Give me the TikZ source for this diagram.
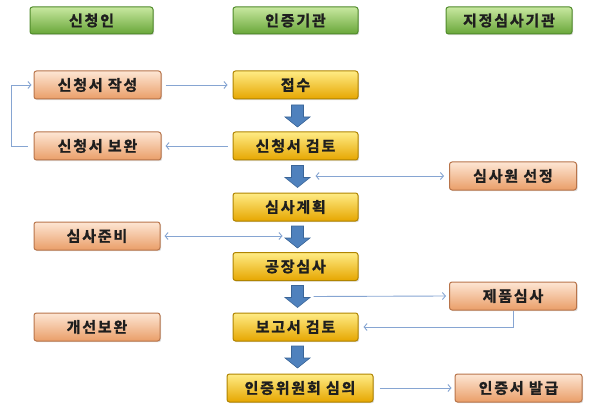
\documentclass[tikz,border=0pt]{standalone}
\usepackage{fontspec}
\setmainfont{Noto Sans CJK KR}
\newfontfamily\krbold{Noto Sans CJK KR Bold}[LetterSpace=12, FakeBold=1.3]
\usetikzlibrary{arrows.meta,shadows,calc}
\definecolor{gtop}{HTML}{C8E8A0}
\definecolor{gmid}{HTML}{8CC751}
\definecolor{gbot}{HTML}{68A638}
\definecolor{gbrd}{HTML}{4F8A2A}
\definecolor{otop}{HTML}{FDE6D4}
\definecolor{omid}{HTML}{F8C39C}
\definecolor{obot}{HTML}{EA9E68}
\definecolor{obrd}{HTML}{B8744A}
\definecolor{ytop}{HTML}{FFEC85}
\definecolor{ymid}{HTML}{FFCC1A}
\definecolor{ybot}{HTML}{E6A600}
\definecolor{ybrd}{HTML}{B08400}
\definecolor{fatblue}{HTML}{4F81BD}
\definecolor{fatbrd}{HTML}{3A6598}
\definecolor{thinblue}{HTML}{86A5D2}
\definecolor{txt}{HTML}{1E1E1E}
\tikzset{
  box/.style={rounded corners=2.5pt, line width=1pt, inner sep=0pt,
    text=txt, font=\krbold\fontsize{15}{16}\selectfont,
    minimum height=28pt, minimum width=126pt,
    drop shadow={shadow xshift=1.2pt, shadow yshift=-1.2pt, fill=black!22, opacity=0.6}},
  hbox/.style={box, draw=gbrd, top color=gtop, middle color=gmid, bottom color=gbot},
  obox/.style={box, draw=obrd, top color=otop, middle color=omid, bottom color=obot},
  ybox/.style={box, draw=ybrd, top color=ytop, middle color=ymid, bottom color=ybot},
  conn/.style={draw=thinblue, line width=0.9pt, -{Straight Barb[length=3pt,width=7pt]}},
  conn2/.style={draw=thinblue, line width=0.9pt, {Straight Barb[length=3pt,width=7pt]}-{Straight Barb[length=3pt,width=7pt]}},
  fatarrow/.style={fill=fatblue, draw=fatbrd, line width=0.6pt, line join=miter}
}
\newcommand{\fatdown}[2]{%
  \coordinate (#1) at (#2);
  \coordinate (#1w) at ($(#1)+(-13,0)$);
  \coordinate (#1e) at ($(#1)+(13,0)$);
  \draw[fatarrow] ($(#1)+(-6,-11)$) -- ($(#1)+(6,-11)$) -- ($(#1)+(6,1)$) --
    ($(#1)+(12.5,1)$) -- ($(#1)+(0,11)$) -- ($(#1)+(-12.5,1)$) -- ($(#1)+(-6,1)$) -- cycle;}
\begin{document}
\begin{tikzpicture}[x=1pt,y=-1pt]
\useasboundingbox (0,0) rectangle (589,409);
% headers
\node[hbox, minimum width=123pt, minimum height=27pt] (h1) at (91.5,20.5) {신청인};
\node[hbox, minimum width=125pt, minimum height=27pt] (h2) at (295.5,20.5) {인증기관};
\node[hbox, minimum width=126pt, minimum height=27pt] (h3) at (509,20.5) {지정심사기관};
% left column
\node[obox, minimum width=127pt] (a1) at (97.5,85) {신청서 작성};
\node[obox, minimum width=127pt] (a2) at (97.5,146) {신청서 보완};
\node[obox] (a3) at (97,236) {심사준비};
\node[obox] (a4) at (97,327) {개선보완};
% middle column
\node[ybox, minimum width=125pt] (b1) at (295.5,85) {접수};
\node[ybox, minimum width=125pt] (b2) at (295.5,146) {신청서 검토};
\node[ybox, minimum width=125pt] (b3) at (295.5,207) {심사계획};
\node[ybox, minimum width=125pt] (b4) at (295.5,266.5) {공장심사};
\node[ybox, minimum width=125pt] (b5) at (295.5,327) {보고서 검토};
\node[ybox, minimum width=146pt] (b6) at (300,388) {인증위원회 심의};
% right column
\node[obox, minimum width=127pt] (c1) at (513,176) {심사원 선정};
\node[obox, minimum width=127pt] (c2) at (513,296) {제품심사};
\node[obox, minimum width=127pt] (c3) at (518.5,388) {인증서 발급};
% fat arrows
\fatdown{d1}{297.5,116}
\fatdown{d2}{297.5,176.5}
\fatdown{d3}{297.5,237}
\fatdown{d4}{297.5,296.5}
\fatdown{d5}{297.5,357}
% thin connectors
\draw[conn] ([xshift=4pt]a1.east) -- ([xshift=-5pt]b1.west);
\draw[conn] ([xshift=-5pt]b2.west) -- ([xshift=4pt]a2.east);
\coordinate (lp) at (11,0);
\draw[conn] ([xshift=-6pt]a2.west) -- (a2.west -| lp) -- (a1.west -| lp) -- ([xshift=-2pt]a1.west);
\draw[conn2] ([xshift=5pt]d2e |- c1.west) -- ([xshift=-5pt]c1.west);
\draw[conn2] ([xshift=4pt]a3.east) -- ([xshift=-2pt]d3w |- a3.east);
\draw[conn] ([xshift=3pt]d4e) -- ([xshift=-3pt]c2.west);
\draw[conn] (c2.south) -- (c2.south |- b5.east) -- ([xshift=5pt]b5.east);
\draw[conn] ([xshift=6pt]b6.east) -- ([xshift=-3pt]c3.west);
\end{tikzpicture}
\end{document}
